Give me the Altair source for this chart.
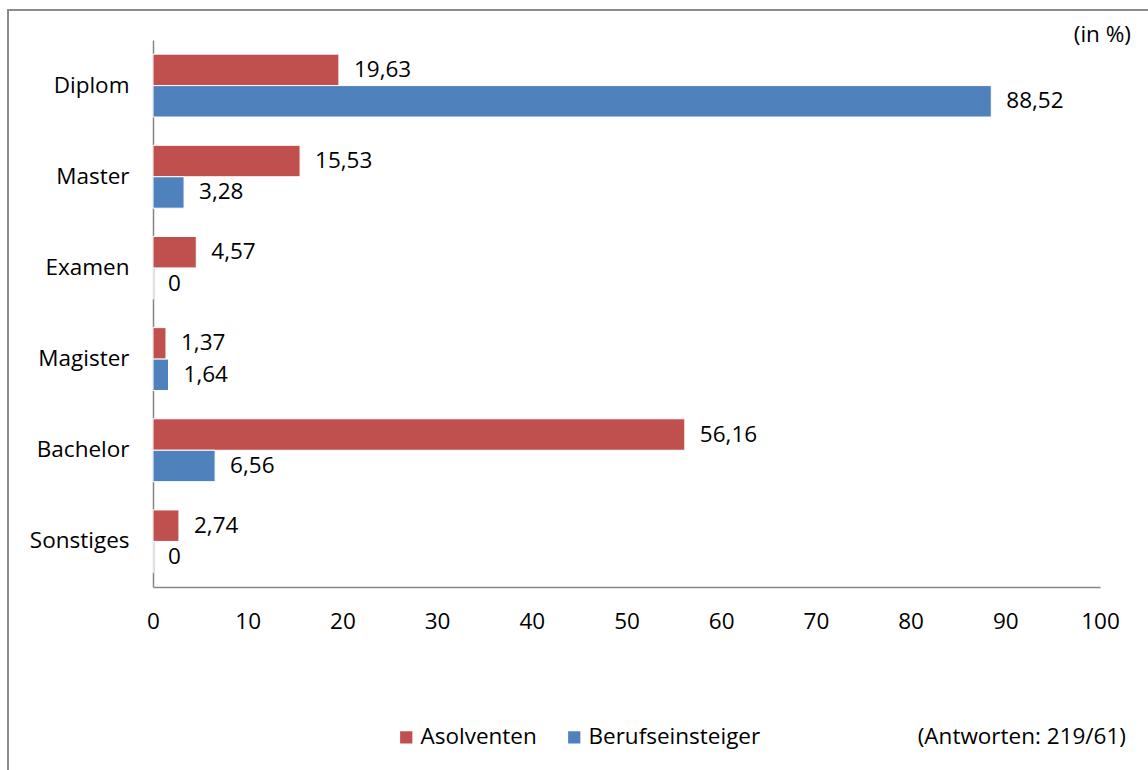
import altair as alt
import pandas as pd

categories = ["Diplom", "Master", "Examen", "Magister", "Bachelor", "Sonstiges"]
asolventen = [19.63, 15.53, 4.57, 1.37, 56.16, 2.74]
berufseinsteiger = [88.52, 3.28, 0, 1.64, 6.56, 0]
series = ["Asolventen", "Berufseinsteiger"]
colors = ["#C0504D", "#4F81BD"]
x_ticks = [0, 10, 20, 30, 40, 50, 60, 70, 80, 90, 100]
unit_note = "(in %)"
answers_note = "(Antworten: 219/61)"

FONT = "Open Sans"
FS = 22.5


def fmt(v):
    if v == 0:
        return "0"
    return f"{v:.2f}".replace(".", ",")


rows = []
for c, a, b in zip(categories, asolventen, berufseinsteiger):
    rows.append({"Abschluss": c, "Gruppe": series[0], "Wert": a, "Label": fmt(a)})
    rows.append({"Abschluss": c, "Gruppe": series[1], "Wert": b, "Label": fmt(b)})
df = pd.DataFrame(rows)

W, H = 947, 547

y_enc = alt.Y("Abschluss:N", sort=categories,
              scale=alt.Scale(paddingInner=0.31, paddingOuter=0.155),
              axis=alt.Axis(title=None, ticks=False, labelFontSize=FS, labelFont=FONT,
                            labelColor="#000000", labelPadding=24, domainColor="#868686",
                            domainWidth=1.5))
x_enc = alt.X("Wert:Q", scale=alt.Scale(domain=[0, 100], nice=False),
              axis=alt.Axis(title=None, values=x_ticks, ticks=False, grid=False,
                            labelFontSize=FS, labelFont=FONT, labelColor="#000000",
                            labelPadding=23, domainColor="#868686", domainWidth=1.5,
                            labelFlush=False))

base = alt.Chart(df)

bars = base.mark_bar(stroke="white", strokeWidth=1).encode(
    x=x_enc,
    y=y_enc,
    yOffset=alt.YOffset("Gruppe:N", sort=series),
    color=alt.Color("Gruppe:N", scale=alt.Scale(domain=series, range=colors),
                    legend=alt.Legend(title=None, orient="none", direction="horizontal",
                                      legendX=242, legendY=686, symbolType="square",
                                      symbolSize=150, symbolStrokeWidth=0,
                                      labelFontSize=FS, labelFont=FONT, labelLimit=400,
                                      labelColor="#000000", columnPadding=26,
                                      labelOffset=3)),
)

labels = base.mark_text(align="left", baseline="middle", dx=15, fontSize=FS,
                        font=FONT, color="#000000").encode(
    x="Wert:Q",
    y=alt.Y("Abschluss:N", sort=categories),
    yOffset=alt.YOffset("Gruppe:N", sort=series),
    text="Label:N",
)

notes_df = pd.DataFrame({"t": [unit_note]})
unit = alt.Chart(notes_df).mark_text(align="right", baseline="middle", fontSize=FS,
                                      font=FONT, color="#000000").encode(
    x=alt.value(978), y=alt.value(-5), text="t:N")

ans_df = pd.DataFrame({"t": [answers_note]})
answers = alt.Chart(ans_df).mark_text(align="right", baseline="middle", fontSize=FS,
                                       font=FONT, color="#000000").encode(
    x=alt.value(973), y=alt.value(697), text="t:N")

border_df = pd.DataFrame({"k": [1]})
border_left = alt.Chart(border_df).mark_rule(color="#8c8c8c", strokeWidth=2).encode(
    x=alt.value(-145), y=alt.value(-30), y2=alt.value(760))
border_top = alt.Chart(border_df).mark_rule(color="#8c8c8c", strokeWidth=2).encode(
    x=alt.value(-146), x2=alt.value(1000), y=alt.value(-30))

chart = alt.layer(border_left, border_top, bars, labels, unit, answers).properties(
    width=W, height=H,
    background="white",
    autosize=alt.AutoSizeParams(type="none"),
    padding={"left": 153, "top": 40, "right": 48, "bottom": 183},
).configure_view(stroke="transparent", strokeWidth=0)

chart.save("out.html", embed_options={"renderer": "svg", "actions": False})
